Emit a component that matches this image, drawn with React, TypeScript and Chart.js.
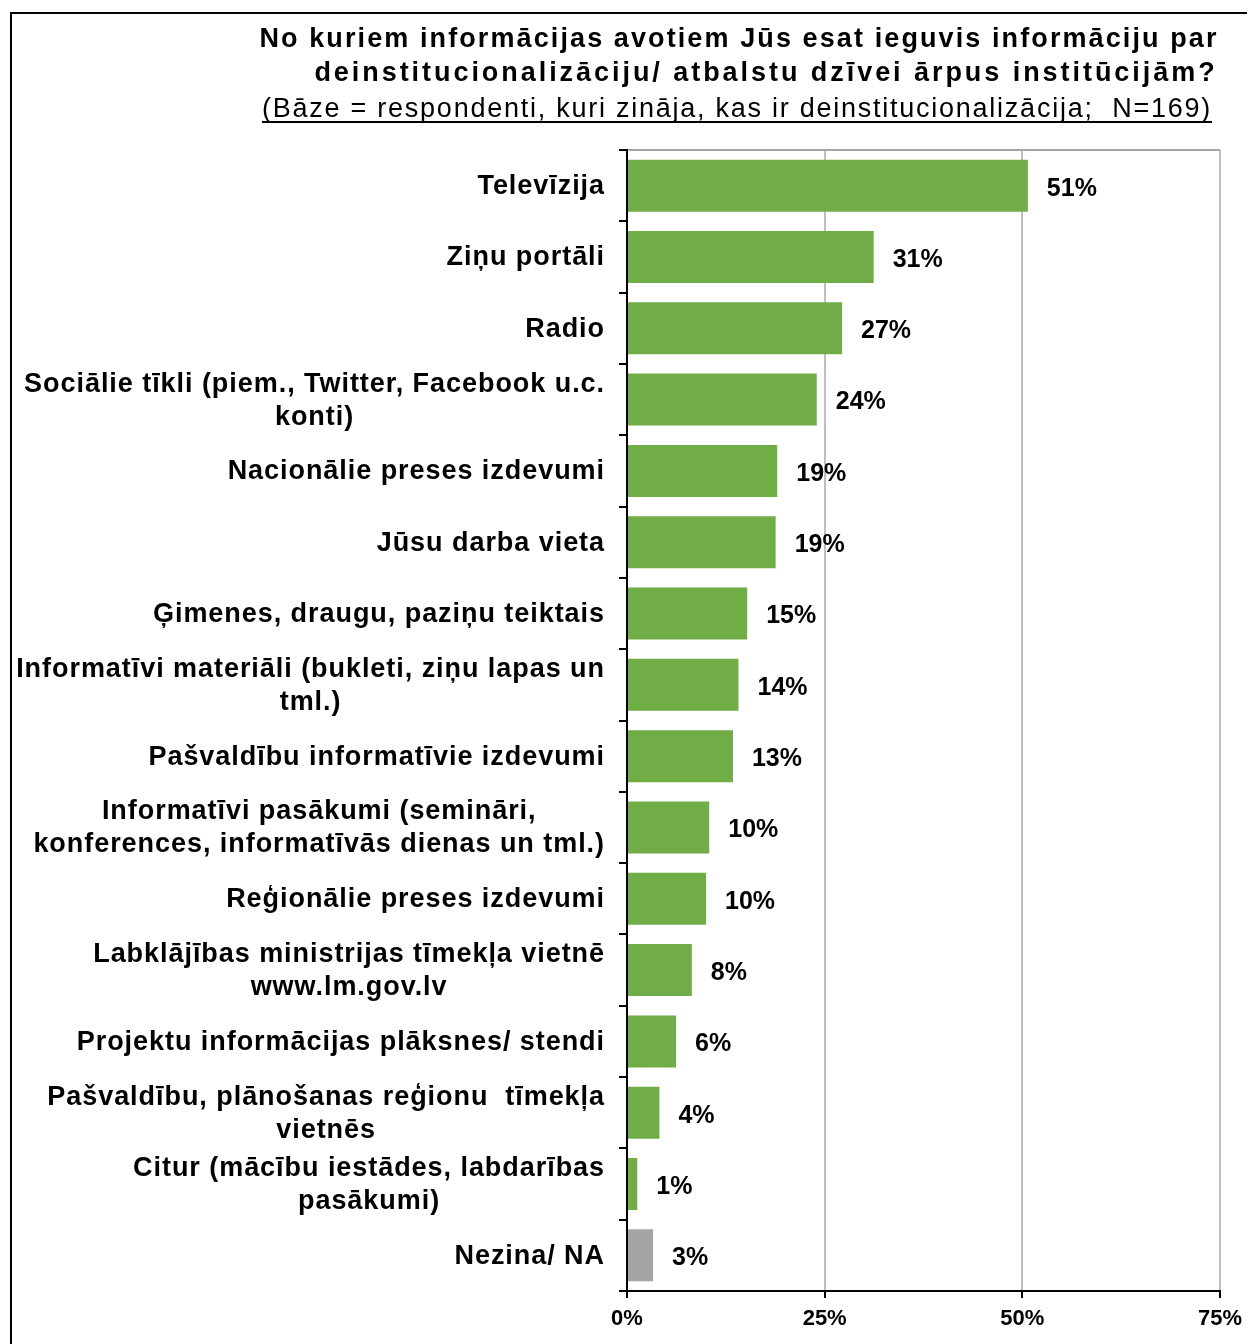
import React, { useEffect, useRef } from "react";
import { Chart, registerables } from "chart.js";

Chart.register(...registerables);

const categoryLines: string[][] = [
  ["Televīzija"],
  ["Ziņu portāli"],
  ["Radio"],
  ["Sociālie tīkli (piem., Twitter, Facebook u.c.", "konti)"],
  ["Nacionālie preses izdevumi"],
  ["Jūsu darba vieta"],
  ["Ģimenes, draugu, paziņu teiktais"],
  ["Informatīvi materiāli (bukleti, ziņu lapas un", "tml.)"],
  ["Pašvaldību informatīvie izdevumi"],
  ["Informatīvi pasākumi (semināri,", "konferences, informatīvās dienas un tml.)"],
  ["Reģionālie preses izdevumi"],
  ["Labklājības ministrijas tīmekļa vietnē", "www.lm.gov.lv"],
  ["Projektu informācijas plāksnes/ stendi"],
  ["Pašvaldību, plānošanas reģionu  tīmekļa", "vietnēs"],
  ["Citur (mācību iestādes, labdarības", "pasākumi)"],
  ["Nezina/ NA"],
];

const values: number[] = [50.7, 31.2, 27.2, 24.0, 19.0, 18.8, 15.2, 14.1, 13.4, 10.4, 10.0, 8.2, 6.2, 4.1, 1.3, 3.3];

const xTicks: number[] = [0, 25, 50, 75];

const titleLines: string[] = [
  "No kuriem informācijas avotiem Jūs esat ieguvis informāciju par",
  "deinstitucionalizāciju/ atbalstu dzīvei ārpus institūcijām?",
  "(Bāze = respondenti, kuri zināja, kas ir deinstitucionalizācija;  N=169)",
];

const FONT = "'Liberation Sans', Arial, sans-serif";
const GREEN = "#70AD47";
const GRAY = "#A5A5A5";

export default function App() {
  const ref = useRef<HTMLCanvasElement | null>(null);

  useEffect(() => {
    if (!ref.current) return;

    const labelPlugin = {
      id: "customText",
      afterDraw(chart: any) {
        const ctx = chart.ctx;
        const yScale = chart.scales.y;
        ctx.save();
        // title
        ctx.fillStyle = "#000";
        ctx.textBaseline = "alphabetic";
        ctx.textAlign = "left";
        const drawCentered = (t: string, cx: number, y: number) => {
          const w = ctx.measureText(t).width;
          ctx.fillText(t, cx - w / 2, y);
          return w;
        };
        ctx.font = `bold 27px ${FONT}`;
        (ctx as any).letterSpacing = "2.1px";
        drawCentered(titleLines[0], 739, 47);
        (ctx as any).letterSpacing = "2.95px";
        drawCentered(titleLines[1], 766, 81);
        ctx.font = `27px ${FONT}`;
        (ctx as any).letterSpacing = "1.75px";
        const w3 = drawCentered(titleLines[2], 737, 117);
        ctx.fillRect(737 - w3 / 2, 121, w3, 2);

        // category labels
        ctx.font = `bold 27px ${FONT}`;
        (ctx as any).letterSpacing = "0.95px";
        ctx.textBaseline = "middle";
        categoryLines.forEach((lines, i) => {
          const yc = yScale.getPixelForValue(i);
          const widths = lines.map((l) => ctx.measureText(l).width);
          const maxW = Math.max(...widths);
          const xc = 605 - maxW / 2;
          const lh = 33;
          lines.forEach((l, j) => {
            const y = yc + (j - (lines.length - 1) / 2) * lh + 1;
            ctx.fillText(l, xc - widths[j] / 2, y);
          });
        });

        // value labels
        const meta = chart.getDatasetMeta(0);
        ctx.font = `bold 25px ${FONT}`;
        (ctx as any).letterSpacing = "0px";
        meta.data.forEach((bar: any, i: number) => {
          ctx.fillText(Math.round(values[i]) + "%", bar.x + 19, bar.y + 3);
        });
        ctx.restore();
      },
    };

    const chart = new Chart(ref.current, {
      type: "bar",
      data: {
        labels: categoryLines.map((l) => l.join(" ")),
        datasets: [
          {
            data: values,
            backgroundColor: values.map((_, i) => (i === values.length - 1 ? GRAY : GREEN)),
            borderWidth: 0,
            barPercentage: 0.73,
            categoryPercentage: 1,
          },
        ],
      },
      options: {
        indexAxis: "y",
        animation: false,
        responsive: false,
        maintainAspectRatio: false,
        layout: { padding: { top: 150, right: 27, left: 0, bottom: 0 } },
        plugins: {
          legend: { display: false },
          title: { display: false },
          tooltip: { enabled: false },
        },
        scales: {
          x: {
            type: "linear",
            min: 0,
            max: 75,
            afterBuildTicks: (s: any) => {
              s.ticks = xTicks.map((v) => ({ value: v }));
            },
            afterFit: (s: any) => {
              s.height = 53;
              s.paddingRight = 0;
              s.paddingLeft = 0;
            },
            ticks: {
              color: "#000",
              font: { family: FONT, size: 22, weight: "bold" },
              padding: 8,
              callback: (v: any) => v + "%",
            },
            grid: {
              color: (c: any) => (c.tick && c.tick.value === 0 ? "rgba(0,0,0,0)" : "#BFBFBF"),
              lineWidth: 2,
              tickColor: "#000",
              tickLength: 7,
            },
            border: { display: true, color: "#000", width: 2 },
          },
          y: {
            type: "category",
            afterFit: (s: any) => {
              s.width = 627;
            },
            ticks: { display: false },
            grid: {
              offset: true,
              color: (c: any) => (c.index === 0 ? "#A6A6A6" : "rgba(0,0,0,0)"),
              lineWidth: 2,
              tickColor: "#000",
              tickLength: 8,
            },
            border: { display: true, color: "#000", width: 2 },
          },
        },
      },
      plugins: [labelPlugin],
    } as any);

    return () => chart.destroy();
  }, []);

  return (
    <div style={{ position: "absolute", left: 0, top: 0, width: 1247, height: 1344, overflow: "hidden", background: "#fff" }}>
      <div
        style={{
          position: "absolute",
          left: 10,
          top: 12,
          width: 1300,
          height: 1400,
          borderLeft: "2px solid #000",
          borderTop: "2px solid #000",
        }}
      />
      <canvas ref={ref} width={1247} height={1344} style={{ position: "absolute", left: 0, top: 0, width: 1247, height: 1344 }} />
    </div>
  );
}
